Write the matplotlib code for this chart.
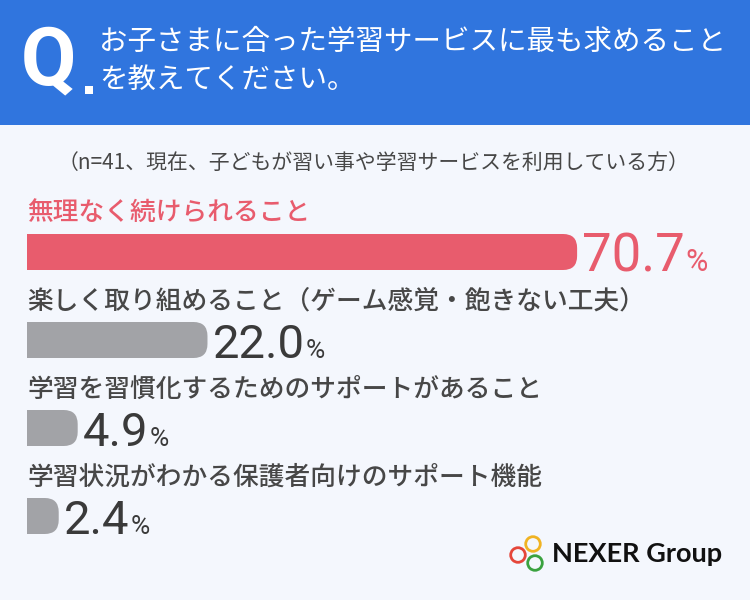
import matplotlib
matplotlib.use("Agg")
import matplotlib.pyplot as plt
from matplotlib.patches import Rectangle, FancyBboxPatch, Circle
from matplotlib.transforms import offset_copy

# ---------------- data ----------------
title_lines = ["お子さまに合った学習サービスに最も求めること", "を教えてください。"]
subtitle = "（n=41、現在、子どもが習い事や学習サービスを利用している方）"
categories = [
    "無理なく続けられること",
    "楽しく取り組めること（ゲーム感覚・飽きない工夫）",
    "学習を習慣化するためのサポートがあること",
    "学習状況がわかる保護者向けのサポート機能",
]
values = [70.7, 22.0, 4.9, 2.4]
logo_text = "NEXER Group"

# ---------------- style ----------------
BG = "#f4f7fd"
BLUE = "#3075de"
PINK = "#e85c6d"
GRAY = "#a2a3a7"
DARK = "#3a3a3a"
LABEL = "#474747"
CJK = ["Noto Sans CJK JP", "DejaVu Sans"]
NUM = ["Roboto", "DejaVu Sans"]

W, H = 750, 600
fig = plt.figure(figsize=(7.5, 6), dpi=100)
fig.patch.set_facecolor(BG)

# overlay axes in pixel coordinates for header / decorations
ax = fig.add_axes([0, 0, 1, 1])
ax.set_xlim(0, W)
ax.set_ylim(H, 0)
ax.axis("off")

ax.add_patch(Rectangle((0, 0), W, 125, color=BLUE, lw=0))
ax.text(49, 62, "Q", color="white", fontsize=58, fontweight="bold",
        family=["Roboto", "DejaVu Sans"], ha="center", va="center")
ax.add_patch(Rectangle((85, 86), 8, 7.5, color="white", lw=0))
ax.text(99, 42, title_lines[0], color="white", fontsize=20.5, family=CJK,
        ha="left", va="center")
ax.text(99, 80, title_lines[1], color="white", fontsize=20.5, family=CJK,
        ha="left", va="center")
ax.text(373, 163, subtitle, color=LABEL, fontsize=15, family=CJK,
        ha="center", va="center")

# ---------------- bars axes ----------------
PX_PER = 7.59          # pixels per percentage point
ORIGIN = 40.5          # pixel x of value 0
PAD = 13.5 / PX_PER    # bars start a little left of 0
ROW0, ROW_STEP = 252, 88
BAR_H = 36 / ROW_STEP
R = 14 / PX_PER

axb = fig.add_axes([0, 0, 1, 1])
axb.patch.set_alpha(0)
axb.axis("off")
axb.set_xlim(-ORIGIN / PX_PER, (W - ORIGIN) / PX_PER)
axb.set_ylim((H - ROW0) / ROW_STEP, (0 - ROW0) / ROW_STEP)
aspect = PX_PER / ROW_STEP

colors = [PINK, GRAY, GRAY, GRAY]
label_colors = [PINK, LABEL, LABEL, LABEL]
num_colors = [PINK, DARK, DARK, DARK]
num_sizes = [38, 34, 34, 34]
pct_sizes = [22, 19, 19, 19]

num_texts = []
for i, (cat, v) in enumerate(zip(categories, values)):
    width = v + PAD
    axb.add_patch(FancyBboxPatch((-PAD, i - BAR_H / 2), width, BAR_H,
                                 boxstyle=f"round,pad=0,rounding_size={R}",
                                 mutation_aspect=aspect, fc=colors[i], ec="none"))
    axb.barh(i, width - R, left=-PAD, height=BAR_H, color=colors[i], lw=0)
    axb.text(-PAD, i - BAR_H / 2 - 21 / ROW_STEP, cat, color=label_colors[i],
             fontsize=18.5, fontweight="medium", family=CJK, ha="left", va="center")
    base_y = i + BAR_H / 2 + (1 / ROW_STEP if i == 0 else 0)
    t = axb.text(v, base_y, f"{v:.1f}", color=num_colors[i], fontsize=num_sizes[i],
                 family=NUM, ha="left", va="baseline",
                 transform=offset_copy(axb.transData, fig=fig, x=5, y=0, units="dots"))
    num_texts.append((t, base_y, v, i))

fig.canvas.draw()
for t, base_y, v, i in num_texts:
    bb = t.get_window_extent()
    axb.text(v, base_y, "%", color=num_colors[i], fontsize=pct_sizes[i],
             family=NUM, ha="left", va="baseline",
             transform=offset_copy(axb.transData, fig=fig, x=5 + bb.width + 1, y=0, units="dots"))

# ---------------- logo ----------------
for (cx, cy), c in zip([(533, 544), (518, 555), (535, 563)], ["#f0b323", "#e5463a", "#3aa23f"]):
    ax.add_patch(Circle((cx, cy), 7.3, fill=False, ec=c, lw=2.0))
ax.text(552, 554, logo_text, color="#111111", fontsize=19.5, fontweight="bold",
        family=["Lato", "DejaVu Sans"], ha="left", va="center")

fig.savefig("out.png", dpi=100, facecolor=BG)
